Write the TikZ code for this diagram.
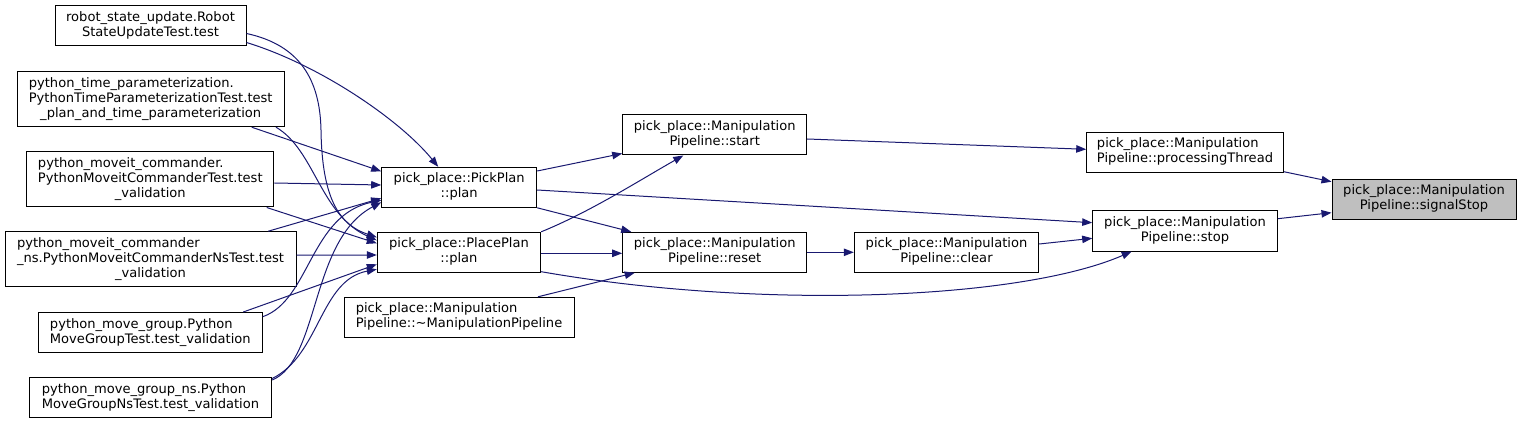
\documentclass[tikz,border=0pt]{standalone}
\usepackage{fontspec}
\setmainfont{DejaVu Sans}
\usetikzlibrary{arrows.meta,calc}
\definecolor{edgeblue}{HTML}{191970}
\definecolor{rootfill}{HTML}{BFBFBF}
\newcommand{\lbl}[2]{\begin{tabular}{@{}l@{}}#1\\\multicolumn{1}{@{}c@{}}{#2}\end{tabular}}
\tikzset{
  box/.style={draw=black, line width=0.75pt, fill=white, inner sep=0pt, rectangle,
    font=\fontsize{9.8pt}{11.25pt}\selectfont, align=center},
  rootbox/.style={box, fill=rootfill},
  edge/.style={draw=edgeblue, line width=0.75pt, -{Triangle[length=7.5pt,width=5.6pt]}}
}
\begin{document}
\begin{tikzpicture}[x=0.75pt,y=-0.75pt]
\useasboundingbox (0,0) rectangle (1521,424);
% left column
\node[box, minimum width=191*0.75pt, minimum height=40*0.75pt] (A) at (150.5,26)
  {\lbl{robot\_state\_update.Robot}{StateUpdateTest.test}};
\node[box, minimum width=266.7*0.75pt, minimum height=55*0.75pt] (B) at (150.7,99.2)
  {\lbl{python\_time\_parameterization.\\PythonTimeParameterizationTest.test}{\_plan\_and\_time\_parameterization}};
\node[box, minimum width=247.3*0.75pt, minimum height=55*0.75pt] (C) at (150.3,179.5)
  {\lbl{python\_moveit\_commander.\\PythonMoveitCommanderTest.test}{\_validation}};
\node[box, minimum width=291*0.75pt, minimum height=55*0.75pt] (D) at (150.5,259.2)
  {\lbl{python\_moveit\_commander\\\_ns.PythonMoveitCommanderNsTest.test}{\_validation}};
\node[box, minimum width=224*0.75pt, minimum height=40*0.75pt] (E) at (150.3,332.5)
  {\lbl{python\_move\_group.Python}{MoveGroupTest.test\_validation}};
\node[box, minimum width=242.4*0.75pt, minimum height=40*0.75pt] (F) at (150.5,397.7)
  {\lbl{python\_move\_group\_ns.Python}{MoveGroupNsTest.test\_validation}};
% middle
\node[box, minimum width=155*0.75pt, minimum height=40*0.75pt] (pick) at (459.2,187.3)
  {\lbl{pick\_place::PickPlan}{::plan}};
\node[box, minimum width=163.4*0.75pt, minimum height=40*0.75pt] (place) at (459,252.3)
  {\lbl{pick\_place::PlacePlan}{::plan}};
\node[box, minimum width=230*0.75pt, minimum height=40*0.75pt] (dtor) at (459,317.3)
  {\lbl{pick\_place::Manipulation}{Pipeline::\textasciitilde ManipulationPipeline}};
\node[box, minimum width=184*0.75pt, minimum height=40*0.75pt] (start) at (714.7,135)
  {\lbl{pick\_place::Manipulation}{Pipeline::start}};
\node[box, minimum width=184*0.75pt, minimum height=40*0.75pt] (reset) at (714.7,252.3)
  {\lbl{pick\_place::Manipulation}{Pipeline::reset}};
\node[box, minimum width=184.4*0.75pt, minimum height=40*0.75pt] (clear) at (946.5,252.3)
  {\lbl{pick\_place::Manipulation}{Pipeline::clear}};
\node[box, minimum width=196.6*0.75pt, minimum height=40*0.75pt] (proc) at (1185,152.5)
  {\lbl{pick\_place::Manipulation}{Pipeline::processingThread}};
\node[box, minimum width=184.6*0.75pt, minimum height=40*0.75pt] (stop) at (1185,231)
  {\lbl{pick\_place::Manipulation}{Pipeline::stop}};
\node[rootbox, minimum width=184*0.75pt, minimum height=40*0.75pt] (sig) at (1424,199.2)
  {\lbl{pick\_place::Manipulation}{Pipeline::signalStop}};
% left edges
\draw[edge] ($(A.east)+(0,16.5)$) .. controls (320,65) and (400,120) .. ($(pick.north)+(-21,0)$);
\draw[edge] ($(A.east)+(0,7.5)$) .. controls (300,45) and (320,80) .. (321,130)
  .. controls (322,200) and (340,225) .. ($(place.west)+(0,-15)$);
\draw[edge] ($(B.south)+(101,0)$) -- ($(pick.west)+(0,-16)$);
\draw[edge] ($(B.south)+(125.3,0)$) .. controls (315,150) and (320,215) .. ($(place.west)+(0,-12)$);
\draw[edge] ($(C.east)+(0,3.5)$) -- ($(pick.west)+(0,-2.3)$);
\draw[edge] ($(C.south)+(116.4,0)$) -- ($(place.west)+(0,-9)$);
\draw[edge] ($(D.north)+(117.8,0)$) -- ($(pick.west)+(0,11)$);
\draw[edge] ($(D.east)+(0,-4.2)$) -- ($(place.west)+(0,2.7)$);
\draw[edge] ($(E.east)+(0,-15.8)$) .. controls (310,300) and (310,215) .. ($(pick.west)+(0,13)$);
\draw[edge] ($(E.north)+(93,0)$) -- ($(place.west)+(0,12)$);
\draw[edge] ($(F.east)+(0,-17.7)$) .. controls (320,360) and (310,240) .. ($(pick.west)+(0,15)$);
\draw[edge] ($(F.east)+(0,-19.2)$) .. controls (320,355) and (320,280) .. ($(place.west)+(0,17)$);
% right edges
\draw[edge] ($(pick.east)+(0,-16.3)$) -- ($(start.south west)+(0,-2)$);
\draw[edge] ($(pick.east)+(0,2.7)$) -- ($(stop.west)+(0,-8.3)$);
\draw[edge] (pick.south east) -- ($(reset.north west)+(9,0)$);
\draw[edge] (place.north east) .. controls (590,212) and (640,180) .. ($(start.south)+(-31.4,0)$);
\draw[edge] ($(place.east)+(0,1)$) -- ($(reset.west)+(0,1)$);
\draw[edge] ($(place.east)+(0,19.4)$) .. controls (760,310) and (1020,300) .. ($(stop.south)+(-53.3,0)$);
\draw[edge] ($(dtor.north)+(79,0)$) -- ($(reset.south)+(-80,0)$);
\draw[edge] (reset.east) -- (clear.west);
\draw[edge] ($(clear.east)+(0,-8.3)$) -- ($(stop.west)+(0,7.3)$);
\draw[edge] ($(start.east)+(0,4)$) -- ($(proc.west)+(0,-3.2)$);
\draw[edge] ($(proc.east)+(0,19.2)$) -- ($(sig.west)+(0,-17.5)$);
\draw[edge] ($(stop.east)+(0,-12.3)$) -- ($(sig.west)+(0,13.5)$);
\end{tikzpicture}
\end{document}
